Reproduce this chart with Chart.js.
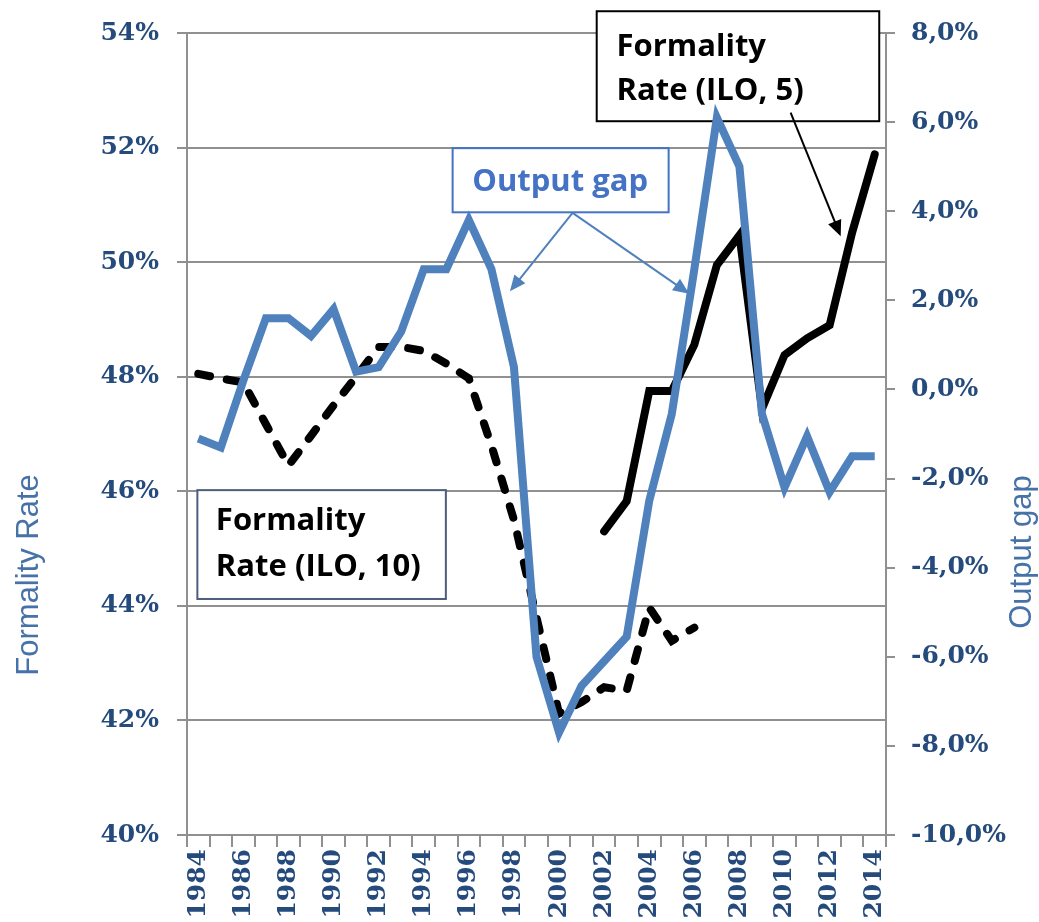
<!DOCTYPE html>
<html>
<head>
<meta charset="utf-8">
<script src="https://cdn.jsdelivr.net/npm/chart.js@4.4.1/dist/chart.umd.min.js"></script>
<style>
  html, body { margin: 0; padding: 0; background: #fff; }
  #wrap { width: 1039px; height: 922px; position: relative; }
</style>
</head>
<body>
<div id="wrap"><canvas id="grafica"></canvas></div>
<script>
// --- datos ---
const anios = ['1984','1985','1986','1987','1988','1989','1990','1991','1992','1993',
  '1994','1995','1996','1997','1998','1999','2000','2001','2002','2003',
  '2004','2005','2006','2007','2008','2009','2010','2011','2012','2013','2014'];

// brecha del producto (eje derecho, %)
const brechaProducto = [-1.1, -1.3, 0.2, 1.6, 1.6, 1.2, 1.8, 0.4, 0.5, 1.3,
  2.7, 2.7, 3.8, 2.7, 0.5, -6.0, -7.7, -6.65, -6.1, -5.55,
  -2.5, -0.55, 2.7, 6.1, 5.0, -0.55, -2.2, -1.05, -2.3, -1.5, -1.5];

// tasa de formalidad OIT 10 (eje izquierdo, %)
const formalidadOit10 = [48.05, 47.97, 47.9, 47.17, 46.45, 46.97, 47.5, 48.0, 48.52, 48.52,
  48.45, 48.23, 47.97, 46.8, 45.5, 43.8, 42.12, 42.32, 42.58, 42.52,
  43.97, 43.39, 43.62, null, null, null, null, null, null, null, null];

// tasa de formalidad OIT 5 (eje izquierdo, %)
const formalidadOit5 = [null, null, null, null, null, null, null, null, null, null,
  null, null, null, null, null, null, null, null, 45.3, 45.83,
  47.75, 47.75, 48.56, 49.95, 50.47, 47.44, 48.38, 48.67, 48.9, 50.52, 51.88];

const ticksIzq = [40, 42, 44, 46, 48, 50, 52, 54];
const ticksDer = [-10, -8, -6, -4, -2, 0, 2, 4, 6, 8];

// --- estilos ---
const AZUL = '#4F81BD';
const AZUL_TEXTO = '#4472C4';
const AZUL_EJE = '#254a7c';
const GRIS = '#909090';
const fuenteEje = { family: '"DejaVu Serif", serif', size: 25, weight: 'bold' };

// recuadros de texto, anclados en (año, valor del eje izquierdo)
const cajas = [
  { x0: 1983.96, x1: 1994.98, y0: 46.02, y1: 44.12, borde: '#4d5d7d', color: '#000', align: 'left',
    tx: 1984.78, ty: [45.32, 44.52], lineas: ['Formality', 'Rate (ILO, 10)'] },
  { x0: 2001.67, x1: 2014.2, y0: 54.38, y1: 52.46, borde: '#000', color: '#000', align: 'left',
    tx: 2002.55, ty: [53.6, 52.83], lineas: ['Formality', 'Rate (ILO, 5)'] },
  { x0: 1995.28, x1: 2004.86, y0: 51.99, y1: 50.87, borde: AZUL_TEXTO, color: AZUL_TEXTO, align: 'center',
    tx: 2000.05, ty: [51.25], lineas: ['Output gap'] }
];
const flechas = [
  { de: [2000.6, 50.86], a: [1997.82, 49.49], color: AZUL },
  { de: [2000.6, 50.86], a: [2005.77, 49.45], color: AZUL },
  { de: [2010.27, 52.61], a: [2012.49, 50.45], color: '#000' }
];

function px(chart, anio) { return chart.scales.x.getPixelForValue(anio - 1984); }
function py(chart, v) { return chart.scales.y.getPixelForValue(v); }

function flecha(ctx, x0, y0, x1, y1, color) {
  const ang = Math.atan2(y1 - y0, x1 - x0);
  const L = 16, W = 7;
  ctx.save();
  ctx.strokeStyle = color; ctx.fillStyle = color; ctx.lineWidth = 2;
  ctx.beginPath();
  ctx.moveTo(x0, y0);
  ctx.lineTo(x1 - Math.cos(ang) * L * 0.8, y1 - Math.sin(ang) * L * 0.8);
  ctx.stroke();
  ctx.beginPath();
  ctx.moveTo(x1, y1);
  ctx.lineTo(x1 - Math.cos(ang) * L - Math.sin(ang) * W, y1 - Math.sin(ang) * L + Math.cos(ang) * W);
  ctx.lineTo(x1 - Math.cos(ang) * L + Math.sin(ang) * W, y1 - Math.sin(ang) * L - Math.cos(ang) * W);
  ctx.closePath();
  ctx.fill();
  ctx.restore();
}

const notas = {
  id: 'notas',
  beforeDatasetsDraw(chart) {
    const ctx = chart.ctx;
    cajas.forEach(c => {
      const x0 = px(chart, c.x0), x1 = px(chart, c.x1), y0 = py(chart, c.y0), y1 = py(chart, c.y1);
      ctx.save();
      ctx.fillStyle = '#fff';
      ctx.fillRect(x0, y0, x1 - x0, y1 - y0);
      ctx.lineWidth = 2;
      ctx.strokeStyle = c.borde;
      ctx.strokeRect(x0, y0, x1 - x0, y1 - y0);
      ctx.font = 'bold 31px "Open Sans", sans-serif';
      ctx.fillStyle = c.color;
      ctx.textAlign = c.align;
      ctx.textBaseline = 'alphabetic';
      c.lineas.forEach((t, i) => ctx.fillText(t, px(chart, c.tx), py(chart, c.ty[i])));
      ctx.restore();
    });
  },
  afterDatasetsDraw(chart) {
    const ctx = chart.ctx;
    flechas.forEach(f => flecha(ctx, px(chart, f.de[0]), py(chart, f.de[1]),
      px(chart, f.a[0]), py(chart, f.a[1]), f.color));
  },
  afterDraw(chart) {
    const ctx = chart.ctx, ca = chart.chartArea;
    ctx.save();
    ctx.font = '31px "Liberation Sans", Arial, sans-serif';
    ctx.fillStyle = '#4672a8';
    ctx.textAlign = 'center';
    ctx.textBaseline = 'middle';
    ctx.translate(ca.left - 158, py(chart, 44.54));
    ctx.rotate(-Math.PI / 2);
    ctx.fillText('Formality Rate', 0, 0);
    ctx.restore();
    ctx.save();
    ctx.font = '31px "Liberation Sans", Arial, sans-serif';
    ctx.fillStyle = '#4672a8';
    ctx.textAlign = 'center';
    ctx.textBaseline = 'middle';
    ctx.translate(ca.right + 136, chart.scales.y1.getPixelForValue(-3.65));
    ctx.rotate(-Math.PI / 2);
    ctx.fillText('Output gap', 0, 0);
    ctx.restore();
  }
};

new Chart(document.getElementById('grafica'), {
  type: 'line',
  data: {
    labels: anios,
    datasets: [
      { label: 'Output gap', data: brechaProducto, yAxisID: 'y1', borderColor: AZUL,
        borderWidth: 8, pointRadius: 0, tension: 0 },
      { label: 'Formality Rate (ILO, 5)', data: formalidadOit5, yAxisID: 'y', borderColor: '#000',
        borderWidth: 8, borderCapStyle: 'round', pointRadius: 0, tension: 0 },
      { label: 'Formality Rate (ILO, 10)', data: formalidadOit10, yAxisID: 'y', borderColor: '#000',
        borderWidth: 8, borderCapStyle: 'round', borderDash: [12, 17], pointRadius: 0, tension: 0 }
    ]
  },
  options: {
    responsive: true,
    maintainAspectRatio: false,
    animation: false,
    layout: { padding: { top: 28, left: 0, right: 0, bottom: 0 } },
    plugins: { legend: { display: false }, tooltip: { enabled: false } },
    scales: {
      x: {
        offset: true,
        grid: { offset: true, drawOnChartArea: false, drawTicks: true, tickLength: 12, color: GRIS, lineWidth: 2 },
        border: { color: GRIS, width: 2 },
        ticks: { autoSkip: false, maxRotation: 90, minRotation: 90, padding: 2, color: AZUL_EJE, font: fuenteEje,
          callback: (v, i) => (i % 2 === 0 ? anios[i] : '') },
        afterFit: s => { s.height = 87; }
      },
      y: {
        position: 'left', min: 40, max: 54,
        afterBuildTicks: s => { s.ticks = ticksIzq.map(v => ({ value: v })); },
        grid: { color: GRIS, lineWidth: 2, tickLength: 10 },
        border: { color: GRIS, width: 2 },
        ticks: { padding: 18, color: AZUL_EJE, font: fuenteEje, callback: v => v + '%' },
        afterFit: s => { s.width = 187; }
      },
      y1: {
        position: 'right', min: -10, max: 8,
        afterBuildTicks: s => { s.ticks = ticksDer.map(v => ({ value: v })); },
        grid: { drawOnChartArea: false, color: GRIS, lineWidth: 2, tickLength: 9 },
        border: { color: GRIS, width: 2 },
        ticks: { padding: 16, color: AZUL_EJE, font: fuenteEje,
          callback: v => v.toFixed(1).replace('.', ',') + '%' },
        afterFit: s => { s.width = 153; }
      }
    }
  },
  plugins: [notas]
});
</script>
</body>
</html>
